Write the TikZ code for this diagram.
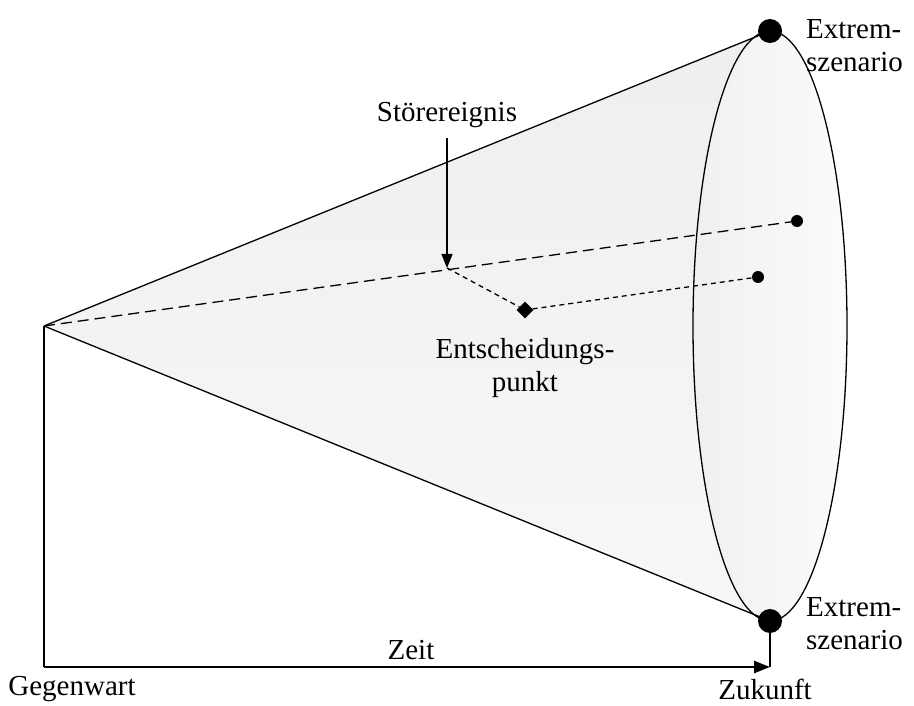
\documentclass[tikz,border=0pt]{standalone}
\usepackage{fontspec}
\setmainfont{Liberation Serif}
\usetikzlibrary{shapes.geometric,arrows.meta}
\tikzset{
  bigdot/.style={circle,fill=black,inner sep=0pt,minimum size=24pt},
  smalldot/.style={circle,fill=black,inner sep=0pt,minimum size=12pt},
  lbl/.style={font=\fontsize{29}{33}\selectfont,inner sep=0pt},
  dia/.style={diamond,fill=black,inner sep=0pt,minimum size=17pt},
  thinline/.style={line width=1.3pt},
}
\begin{document}
\begin{tikzpicture}[x=1pt,y=-1pt]
\useasboundingbox (0,0) rectangle (914,706);
\coordinate (apex) at (44,326);
\coordinate (tp) at (770,31);
\coordinate (bt) at (770,621);
% cone
\shade[top color=gray!13,bottom color=gray!6] (apex) -- (tp) -- (bt) -- cycle;
\shade[left color=gray!12,right color=gray!3,draw=black,thinline] (770,326) ellipse [x radius=77,y radius=295];
\draw[thinline] (apex) -- (tp);
\draw[thinline] (apex) -- (bt);
% dots
\node[bigdot] (d1) at (tp) {};
\node[bigdot] (d2) at (bt) {};
\node[smalldot] (s1) at (797,221) {};
\node[smalldot] (s2) at (758,277) {};
\node[dia] (ent) at (525,310) {};
\coordinate (st) at (447,268);
% paths
\draw[thinline,dash pattern=on 11pt off 6pt] (apex) -- (s1);
\draw[thinline,dash pattern=on 5pt off 4pt] (st) -- (ent);
\draw[thinline,dash pattern=on 5pt off 4pt] (ent) -- (s2);
% labels
\node[lbl] (stl) at (447,115) {Störereignis};
\draw[thinline,-{Triangle[length=14pt,width=11pt]}] (447,138) -- (st);
\node[lbl,align=center] (entl) at (525,368) {Entscheidungs-\\punkt};
\node[lbl,align=left,anchor=west] (ex1) at (806,46) {Extrem-\\szenario};
\node[lbl,align=left,anchor=west] (ex2) at (806,624) {Extrem-\\szenario};
% axes
\coordinate (ax0) at (44,667);
\coordinate (ax1) at (770,667);
\draw[thinline] (apex) -- (ax0);
\draw[thinline] (d2) -- (ax1);
\draw[line width=2.5pt,-{Triangle[length=16pt,width=12pt]}] (ax0) -- (ax1);
\node[lbl] (zeit) at (411,650) {Zeit};
\node[lbl] (geg) at (72,689) {Gegenwart};
\node[lbl] (zuk) at (765,689) {Zukunft};
\end{tikzpicture}
\end{document}
